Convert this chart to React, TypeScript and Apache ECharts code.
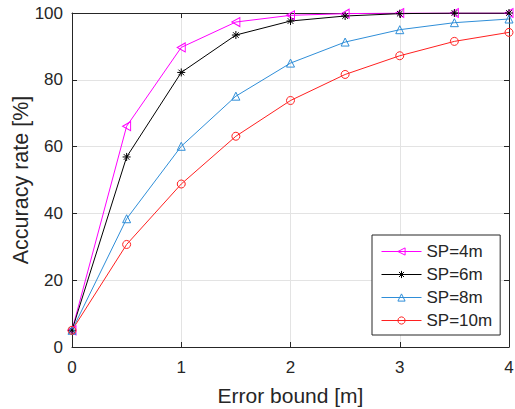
import React, { useEffect, useRef } from "react";
import * as echarts from "echarts";

const errorBound = [0, 0.5, 1, 1.5, 2, 2.5, 3, 3.5, 4];
const sp4 = [5, 66.1, 89.7, 97.3, 99.3, 99.8, 100, 100, 100];
const sp6 = [5, 56.9, 82.2, 93.4, 97.6, 99.1, 99.8, 100, 100];
const sp8 = [5, 38.4, 60.1, 75.1, 85.0, 91.3, 95.0, 97.1, 98.2];
const sp10 = [5, 30.7, 48.8, 63.1, 73.8, 81.6, 87.2, 91.5, 94.2];
const seriesNames = ["SP=4m", "SP=6m", "SP=8m", "SP=10m"];
const seriesColors = ["#FF00FF", "#000000", "#2F8ED8", "#FF2020"];
const seriesSymbols = [
  "path://M0,5L10,0L10,10Z",
  "path://M5,0L5,10M0,5L10,5M1.5,1.5L8.5,8.5M8.5,1.5L1.5,8.5",
  "triangle",
  "circle",
];

const FONT = "Liberation Sans, Arial, Helvetica, sans-serif";
const TXT = "#262626";

export default function App() {
  const ref = useRef<HTMLDivElement>(null);
  useEffect(() => {
    if (!ref.current) return;
    const chart = echarts.init(ref.current, null, { renderer: "svg" });
    const allData = [sp4, sp6, sp8, sp10];
    const series = allData.map((d, i) => ({
      name: seriesNames[i],
      type: "line",
      data: d.map((v, j) => [errorBound[j], v]),
      symbol: seriesSymbols[i],
      symbolSize: i === 0 ? [8, 9] : 8,
      showAllSymbol: true,
      color: seriesColors[i],
      lineStyle: { color: seriesColors[i], width: 1 },
      itemStyle: { color: "none", borderColor: seriesColors[i], borderWidth: 1 },
      emphasis: { disabled: true },
    }));
    const axisCommon = {
      axisLine: { show: true, onZero: false, lineStyle: { color: TXT, width: 1 } },
      axisTick: { show: true, inside: true, length: 5, lineStyle: { color: TXT } },
    };
    chart.setOption({
      animation: false,
      textStyle: { fontFamily: FONT },
      grid: {
        left: 72,
        right: 6,
        top: 13,
        bottom: 62,
        containLabel: false,
        outerBoundsMode: "none",
      },
      legend: {
        orient: "vertical",
        left: 372,
        top: 235,
        padding: [8, 8, 6, 9],
        itemWidth: 40,
        itemHeight: 9,
        itemGap: 6,
        backgroundColor: "#ffffff",
        borderColor: TXT,
        borderWidth: 1,
        borderRadius: 0,
        textStyle: { fontSize: 17, color: TXT, fontFamily: FONT },
        data: seriesNames.map((n, i) => ({
          name: n,
          itemStyle: { color: "none", borderColor: seriesColors[i], borderWidth: 1 },
          lineStyle: { color: seriesColors[i], width: 1 },
        })),
      },
      xAxis: [
        {
          type: "value",
          min: 0,
          max: 4,
          interval: 1,
          name: "Error bound [m]",
          nameLocation: "middle",
          nameGap: 38,
          nameMoveOverlap: false,
          nameTextStyle: { fontSize: 21, color: TXT, fontFamily: FONT },
          ...axisCommon,
          axisLabel: { fontSize: 17, color: TXT, margin: 12, fontFamily: FONT },
          splitLine: { show: true, lineStyle: { color: "#e3e3e3", width: 1 } },
        },
        {
          type: "value",
          position: "top",
          min: 0,
          max: 4,
          interval: 1,
          ...axisCommon,
          axisLabel: { show: false },
          splitLine: { show: false },
        },
      ],
      yAxis: [
        {
          type: "value",
          min: 0,
          max: 100,
          interval: 20,
          name: "Accuracy rate [%]",
          nameLocation: "middle",
          nameGap: 40,
          nameMoveOverlap: false,
          nameTextStyle: { fontSize: 21.5, color: TXT, fontFamily: FONT },
          ...axisCommon,
          axisLabel: { fontSize: 17, color: TXT, margin: 9, fontFamily: FONT },
          splitLine: { show: true, lineStyle: { color: "#e3e3e3", width: 1 } },
        },
        {
          type: "value",
          position: "right",
          min: 0,
          max: 100,
          interval: 20,
          ...axisCommon,
          axisLabel: { show: false },
          splitLine: { show: false },
        },
      ],
      series,
    });
    return () => chart.dispose();
  }, []);
  return (
    <div
      ref={ref}
      style={{ position: "fixed", left: 0, top: 0, width: 515, height: 409, background: "#fff" }}
    />
  );
}
